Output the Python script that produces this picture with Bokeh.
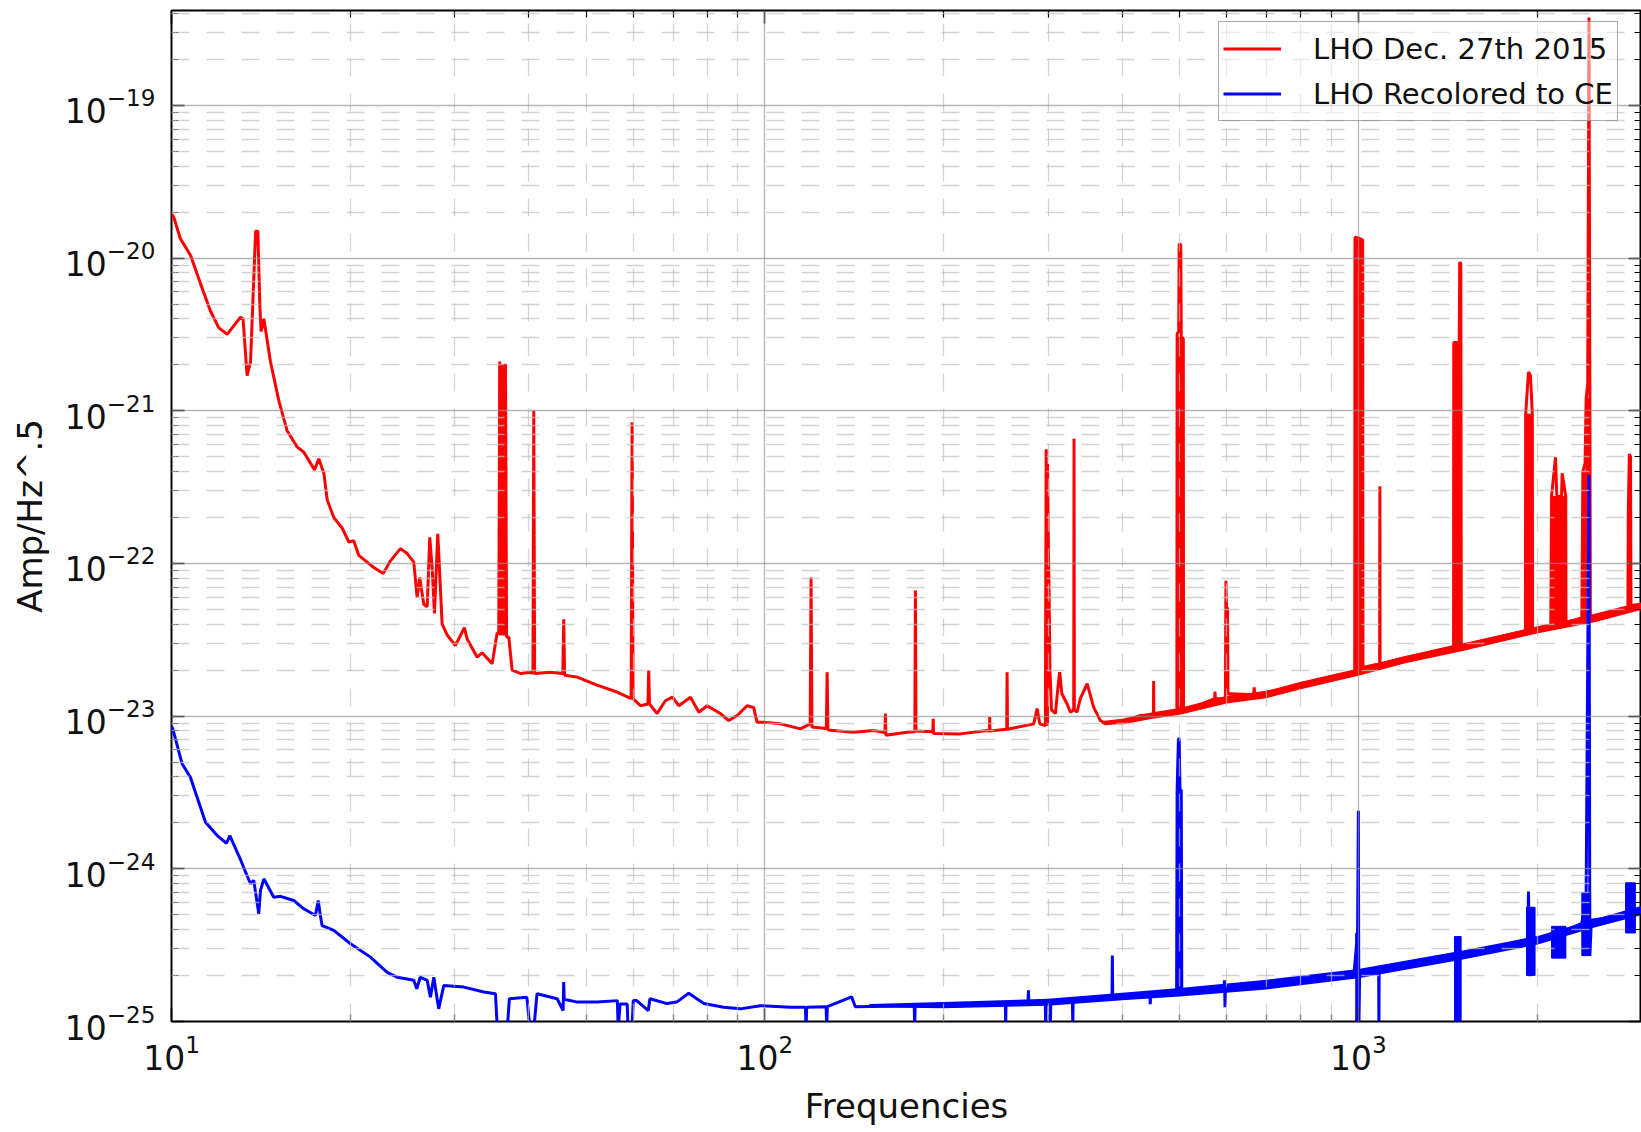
from bokeh.plotting import figure
from bokeh.models import Range1d, LogAxis, FixedTicker, Legend, LegendItem, CustomJSTickFormatter
from bokeh.embed import file_html
from bokeh.resources import INLINE

FONT = "DejaVu Sans"

# ---- amplitude spectral density, LHO Dec. 27th 2015 (Hz, strain/rtHz) ----
red_trace = [
    (10.0, 1.95e-20), (10.09, 1.85e-20), (10.35, 1.34e-20), (10.77, 1.04e-20), (11.19, 6.8e-21),
    (11.63, 4.5e-21), (12.01, 3.5e-21), (12.41, 3.16e-21), (13.07, 4.1e-21), (13.20, 4.0e-21),
    (13.41, 1.7e-21), (13.59, 2.1e-21), (13.86, 1.5e-20), (13.98, 1.5e-20), (14.09, 4.8e-21),
    (14.16, 3.3e-21), (14.31, 4.0e-21), (14.68, 2.1e-21), (15.16, 1.17e-21), (15.66, 7.4e-22),
    (16.28, 5.8e-22), (16.71, 5.35e-22), (17.42, 4.1e-22), (17.71, 4.85e-22), (18.06, 3.9e-22),
    (18.30, 2.6e-22), (18.77, 2.0e-22), (19.40, 1.7e-22), (19.90, 1.38e-22), (20.28, 1.41e-22),
    (20.68, 1.13e-22), (21.36, 1.02e-22), (21.92, 9.4e-23), (22.74, 8.6e-23), (23.39, 1.04e-22),
    (24.31, 1.25e-22), (24.96, 1.16e-22), (25.60, 1.02e-22), (25.94, 6.0e-23), (26.20, 8.1e-23),
    (26.61, 5.4e-23), (26.97, 5.2e-23), (27.24, 1.48e-22), (27.50, 9.2e-23), (27.74, 4.7e-23),
    (28.10, 1.56e-22), (28.58, 4.0e-23), (29.14, 3.4e-23), (30.09, 2.9e-23), (31.16, 3.8e-23),
    (31.49, 3.2e-23), (32.74, 2.43e-23), (33.38, 2.6e-23), (34.70, 2.2e-23), (35.38, 3.5e-23),
    (35.60, 3.5e-23), (35.74, 2.1e-21), (35.90, 4.0e-23), (36.05, 2.0e-21), (36.20, 5.0e-23),
    (36.35, 2.0e-21), (36.54, 1.98e-21), (36.70, 3.3e-23), (37.01, 3.3e-23), (37.50, 2.0e-23),
    (38.80, 1.9e-23), (40.26, 1.94e-23), (40.65, 1.9e-23), (40.78, 1.0e-21), (40.92, 1.9e-23),
    (43.51, 1.94e-23), (45.65, 1.9e-23), (45.81, 4.3e-23), (45.97, 1.85e-23), (48.26, 1.8e-23),
    (52.0, 1.6e-23), (56.0, 1.45e-23), (59.5, 1.3e-23), (59.73, 8.4e-22), (59.95, 1.3e-23),
    (61.7, 1.17e-23), (63.5, 1.2e-23), (63.7, 1.99e-23), (63.9, 1.2e-23), (65.8, 1.04e-23),
    (67.96, 1.26e-23), (69.8, 1.33e-23), (71.6, 1.17e-23), (74.9, 1.33e-23), (77.4, 1.06e-23),
    (79.9, 1.17e-23), (84.1, 1.04e-23), (86.9, 9.35e-24), (89.8, 1.01e-23), (93.3, 1.17e-23),
    (95.7, 1.14e-23), (97.0, 9.1e-24), (100.2, 9.1e-24), (106.2, 8.9e-24), (114.8, 8.25e-24),
    (119.2, 8.9e-24), (119.6, 8.1e-23), (120.0, 8.5e-24), (126.9, 8.3e-24), (127.3, 1.94e-23),
    (127.7, 8.1e-24), (141.1, 7.85e-24), (152.5, 8.05e-24), (159.3, 7.8e-24), (159.6, 1.04e-23),
    (159.9, 7.5e-24), (173.6, 7.85e-24), (178.9, 7.9e-24), (179.3, 6.64e-23), (179.7, 8.0e-24),
    (191.8, 7.9e-24), (192.1, 9.6e-24), (192.4, 7.7e-24), (213.5, 7.65e-24), (236.8, 8.05e-24),
    (238.9, 8.0e-24), (239.2, 9.85e-24), (239.5, 8.0e-24), (255.5, 8.2e-24), (255.9, 1.94e-23),
    (256.3, 8.2e-24), (283.8, 8.9e-24), (287.5, 1.12e-23), (290.5, 8.9e-24), (296.9, 8.66e-24),
    (297.8, 5.6e-22), (298.6, 1.5e-22), (299.4, 4.5e-22), (300.2, 1.5e-22), (301.2, 6.5e-23),
    (302.2, 2.0e-23), (304.0, 1.1e-23), (308.7, 1.04e-23), (311.5, 1.5e-23), (313.8, 1.94e-23),
    (316.5, 1.4e-23), (323.0, 1.2e-23), (327.2, 1.06e-23), (331.4, 1.1e-23), (331.8, 6.55e-22),
    (332.2, 1.1e-23), (335.7, 1.06e-23), (340.0, 1.3e-23), (349.1, 1.63e-23), (358.1, 1.14e-23),
    (367.5, 9.35e-24), (374.5, 8.9e-24), (395.8, 9.1e-24), (429.8, 1.01e-23), (451.5, 1.02e-23),
    (451.9, 1.7e-23), (452.3, 1.02e-23), (486.4, 1.06e-23), (494.5, 1.08e-23), (495.0, 3.2e-21),
    (498.0, 3.3e-21), (499.0, 1.24e-20), (502.0, 1.22e-20), (503.0, 3.0e-21), (507.0, 3.0e-21),
    (507.5, 1.1e-23), (514.0, 1.1e-23), (543.0, 1.2e-23), (572.5, 1.3e-23), (573.3, 1.45e-23),
    (574.1, 1.3e-23), (597.0, 1.3e-23), (598.2, 7.7e-23), (599.5, 5.1e-23), (602.0, 5.1e-23),
    (603.0, 1.4e-23), (612.0, 1.4e-23), (666.0, 1.38e-23), (667.5, 1.54e-23), (669.0, 1.38e-23),
    (676.9, 1.4e-23), (776.6, 1.55e-23), (891.6, 1.76e-23), (981.6, 1.9e-23), (986.0, 1.9e-23),
    (987.0, 1.37e-20), (1002.0, 1.35e-20), (1012.0, 1.32e-20), (1017.0, 1.32e-20), (1018.0, 2.05e-23),
    (1022.8, 2.09e-23), (1086.0, 2.2e-23), (1087.0, 3.2e-22), (1088.0, 2.2e-23), (1174.0, 2.37e-23),
    (1443.0, 2.85e-23), (1447.0, 2.85e-23), (1448.0, 2.8e-21), (1479.0, 2.8e-21), (1482.0, 9.4e-21),
    (1488.0, 9.2e-21), (1491.0, 2.9e-23), (1546.0, 3.0e-23), (1901.0, 3.6e-23), (1912.0, 3.65e-23),
    (1914.0, 9.5e-22), (1935.0, 1.79e-21), (1950.0, 1.7e-21), (1964.0, 9.5e-22), (1966.0, 3.7e-23),
    (2110.0, 4.0e-23), (2116.0, 2.74e-22), (2149.0, 4.96e-22), (2160.0, 2.74e-22), (2200.0, 2.74e-22),
    (2205.0, 3.9e-22), (2236.0, 2.74e-22), (2238.0, 4.1e-23), (2380.0, 4.4e-23), (2390.0, 4.0e-22),
    (2410.0, 4.5e-22), (2420.0, 1.2e-21), (2435.0, 1.5e-21), (2447.0, 3.76e-19), (2455.0, 1.5e-21),
    (2460.0, 4.5e-23), (2794.0, 5.1e-23), (2846.0, 5.2e-23), (2850.0, 2.1e-22), (2862.0, 5.2e-22),
    (2875.0, 5.0e-22), (2880.0, 5.3e-23), (3000.0, 5.4e-23),
]

# spread of the noise floor above ~370 Hz: frequency, lower edge, upper edge
red_band_freq = [370, 400, 450, 500, 600, 700, 800, 1000, 1200, 1500, 2000, 2500, 3000]
red_band_lo = [8.9e-24, 8.8e-24, 9.6e-24, 1.02e-23, 1.21e-23, 1.31e-23, 1.5e-23, 1.84e-23,
               2.22e-23, 2.67e-23, 3.48e-23, 4.12e-23, 4.97e-23]
red_band_hi = [9.3e-24, 9.6e-24, 1.06e-23, 1.13e-23, 1.36e-23, 1.46e-23, 1.68e-23, 2.05e-23,
               2.48e-23, 2.98e-23, 3.87e-23, 4.62e-23, 5.55e-23]

# densely packed line groups: left Hz, right Hz, floor, top
red_groups = [
    (35.65, 36.65, 3.4e-23, 2.0e-21),
    (297.3, 300.6, 8.7e-24, 1.5e-22),
    (494.7, 507.3, 1.08e-23, 3.0e-21),
    (986.5, 1017.5, 1.9e-23, 1.32e-20),
    (1447.5, 1490.5, 2.85e-23, 2.8e-21),
    (1479.0, 1489.0, 2.9e-23, 9.2e-21),
    (1913.0, 1965.0, 3.65e-23, 9.5e-22),
    (2114.0, 2237.0, 4.1e-23, 2.74e-22),
    (2385.0, 2458.0, 4.4e-23, 4.0e-22),
    (2418.0, 2456.0, 4.4e-23, 1.2e-21),
    (2848.0, 2878.0, 5.2e-23, 2.1e-22),
]

# ---- same data recoloured to Cosmic Explorer sensitivity ----
blue_trace = [
    (10.0, 8.6e-24), (10.05, 8.26e-24), (10.42, 4.87e-24), (10.76, 3.98e-24), (11.41, 2.02e-24),
    (11.94, 1.65e-24), (12.38, 1.47e-24), (12.54, 1.65e-24), (13.07, 1.15e-24), (13.33, 9.5e-25),
    (13.59, 7.98e-25), (13.76, 8.4e-25), (14.03, 5.07e-25), (14.12, 7.2e-25), (14.31, 8.6e-25),
    (14.87, 6.52e-25), (15.26, 6.6e-25), (16.07, 6.2e-25), (16.71, 5.47e-25), (17.48, 4.94e-25),
    (17.67, 6.2e-25), (17.80, 5.07e-25), (17.94, 4.25e-25), (18.77, 3.95e-25), (20.03, 3.23e-25),
    (21.64, 2.64e-25), (23.09, 2.1e-25), (24.0, 1.95e-25), (25.6, 1.86e-25), (25.9, 1.64e-25),
    (26.25, 1.95e-25), (26.97, 1.86e-25), (27.31, 1.44e-25), (27.67, 1.95e-25), (28.2, 1.21e-25),
    (28.76, 1.72e-25), (31.08, 1.68e-25), (33.6, 1.56e-25), (35.15, 1.52e-25), (35.4, 9e-26),
    (36.8, 9e-26), (37.1, 1.41e-25), (39.7, 1.44e-25), (40.2, 9e-26), (40.8, 9e-26),
    (41.3, 1.52e-25), (44.65, 1.41e-25), (45.7, 1.18e-25), (45.8, 1.81e-25), (45.9, 1.4e-25),
    (48.3, 1.34e-25), (52.2, 1.34e-25), (56.4, 1.37e-25), (56.6, 9e-26), (57.0, 1.3e-25),
    (58.6, 1.3e-25), (58.8, 9e-26), (59.7, 9e-26), (60.0, 1.37e-25), (60.8, 1.37e-25),
    (63.6, 1.18e-25), (64.0, 1.41e-25), (68.4, 1.31e-25), (71.0, 1.34e-25), (74.4, 1.53e-25),
    (78.9, 1.31e-25), (85.2, 1.24e-25), (90.9, 1.21e-25), (98.3, 1.27e-25), (110.4, 1.24e-25),
    (117.0, 1.24e-25), (117.3, 9e-26), (117.6, 1.24e-25), (126.8, 1.25e-25), (127.1, 9e-26),
    (127.4, 1.25e-25), (140.0, 1.45e-25), (142.0, 1.25e-25), (178.5, 1.27e-25), (178.8, 9e-26),
    (179.1, 1.27e-25), (200.0, 1.27e-25), (254.2, 1.3e-25), (254.5, 9e-26), (254.8, 1.3e-25),
    (277.5, 1.32e-25), (278.0, 1.6e-25), (278.5, 1.32e-25), (296.8, 1.33e-25), (297.2, 9e-26),
    (297.8, 1.33e-25), (302.2, 1.34e-25), (302.6, 9e-26), (303.2, 1.35e-25), (329.8, 1.36e-25),
    (330.2, 9e-26), (330.6, 1.36e-25), (340.0, 1.38e-25), (367.0, 1.45e-25), (384.5, 1.45e-25),
    (385.0, 2.7e-25), (385.5, 1.45e-25), (445.5, 1.45e-25), (446.0, 1.3e-25), (446.5, 1.48e-25),
    (486.0, 1.52e-25), (494.0, 1.55e-25), (495.0, 3.28e-24), (497.5, 7.1e-24), (499.0, 7.1e-24),
    (500.5, 3.28e-24), (503.0, 3.28e-24), (504.0, 1.6e-25), (514.0, 1.56e-25), (594.0, 1.7e-25),
    (595.0, 1.86e-25), (596.0, 1.24e-25), (597.0, 1.7e-25), (674.0, 1.72e-25), (762.0, 1.8e-25),
    (850.0, 1.95e-25), (983.0, 2.04e-25), (997.0, 3.8e-25), (1000.0, 2.4e-24), (1002.0, 9e-26),
    (1005.0, 2.06e-25), (1082.0, 2.1e-25), (1083.0, 9e-26), (1084.0, 2.1e-25), (1127.0, 2.16e-25),
    (1460.0, 2.7e-25), (1930.0, 3.45e-25), (1935.0, 7.1e-25), (1945.0, 1.98e-25), (1955.0, 3.5e-25),
    (2120.0, 3.6e-25), (2380.0, 4.4e-25), (2420.0, 6.7e-25), (2447.0, 3.8e-22), (2455.0, 2.7e-25),
    (2470.0, 4.6e-25), (2840.0, 5.0e-25), (2850.0, 8.1e-25), (2860.0, 3.8e-25), (2870.0, 5.05e-25),
    (3000.0, 5.34e-25),
]

blue_band_freq = [150, 200, 300, 400, 500, 700, 1000, 1500, 2000, 2500, 3000]
blue_band_lo = [1.24e-25, 1.22e-25, 1.27e-25, 1.38e-25, 1.46e-25, 1.62e-25, 1.92e-25,
                2.55e-25, 3.18e-25, 4.13e-25, 4.98e-25]
blue_band_hi = [1.3e-25, 1.34e-25, 1.41e-25, 1.54e-25, 1.66e-25, 1.88e-25, 2.21e-25,
                2.92e-25, 3.62e-25, 4.67e-25, 5.72e-25]

blue_groups = [
    (494.5, 503.5, 1.55e-25, 3.28e-24),
    (990.0, 1004.0, 9e-26, 3.8e-25),
    (1452.0, 1490.0, 9e-26, 3.6e-25),
    (1920.0, 1985.0, 2.0e-25, 5.6e-25),
    (2116.0, 2237.0, 2.6e-25, 4.2e-25),
    (2380.0, 2462.0, 2.7e-25, 7.0e-25),
    (2820.0, 2930.0, 3.8e-25, 8.1e-25),
]

series_labels = ["LHO Dec. 27th 2015", "LHO Recolored to CE"]

# ---- axes ticks ----
x_major = [10, 100, 1000]
x_minor = [m * d for d in (10, 100, 1000) for m in range(2, 10) if m * d <= 3000]
y_major = [10.0 ** e for e in range(-25, -18)]
y_minor = [m * 10.0 ** e for e in range(-25, -18) for m in range(2, 10)]


def unzip(pairs):
    return [a for a, _ in pairs], [b for _, b in pairs]


red_freq, red_amp = unzip(red_trace)
blue_freq, blue_amp = unzip(blue_trace)

p = figure(width=1641, height=1132, x_axis_type="log", y_axis_type="log",
           x_range=Range1d(10, 3000), y_range=Range1d(1e-25, 4.18e-19),
           output_backend="svg", toolbar_location=None,
           min_border_left=171, min_border_right=0, min_border_top=10, min_border_bottom=111,
           x_axis_label="Frequencies", y_axis_label="Amp/Hz^.5")
p.background_fill_color = "white"
p.border_fill_color = "white"
p.outline_line_color = "black"
p.outline_line_width = 2

xt = FixedTicker(ticks=x_major, minor_ticks=x_minor)
yt = FixedTicker(ticks=y_major, minor_ticks=y_minor)

# tick-only axes on the top and right edges of the frame
blank = CustomJSTickFormatter(code="return ''")
top_axis = LogAxis(ticker=xt, formatter=blank)
right_axis = LogAxis(ticker=yt, formatter=blank)
p.add_layout(top_axis, "above")
p.add_layout(right_axis, "right")

bottom_axis = p.below[0]
left_axis = p.left[0]
bottom_axis.ticker = xt
left_axis.ticker = yt

for ax in (bottom_axis, left_axis, top_axis, right_axis):
    ax.axis_line_color = None
    ax.major_tick_in = 13
    ax.major_tick_out = 0
    ax.minor_tick_in = 7
    ax.minor_tick_out = 0
    ax.major_tick_line_color = "black"
    ax.major_tick_line_width = 1.5
    ax.minor_tick_line_color = "black"
    ax.minor_tick_line_width = 1.2
    ax.major_label_text_font = FONT
    ax.major_label_text_font_size = "33px"
    ax.major_label_text_color = "#111111"
    ax.axis_label_text_font = FONT
    ax.axis_label_text_font_size = "34px"
    ax.axis_label_text_font_style = "normal"
    ax.axis_label_text_color = "#111111"

for ax in (top_axis, right_axis):
    ax.major_label_text_font_size = "1px"
    ax.major_label_standoff = 0

left_axis.major_label_standoff = 16
left_axis.axis_label_standoff = 12
bottom_axis.major_label_standoff = 12
bottom_axis.axis_label_standoff = 13

for g, t in ((p.xgrid[0], xt), (p.ygrid[0], yt)):
    g.ticker = t
    g.level = "annotation"
    g.grid_line_color = "#909090"
    g.grid_line_alpha = 0.65
    g.grid_line_width = 1.3
    g.minor_grid_line_color = "#c0c0c0"
    g.minor_grid_line_alpha = 0.7
    g.minor_grid_line_width = 1.3
    g.minor_grid_line_dash = "18 17"

RED = "#ff0000"
BLUE = "#0000ff"

p.varea(x=red_band_freq, y1=red_band_lo, y2=red_band_hi, fill_color=RED)
p.quad(left=[g[0] for g in red_groups], right=[g[1] for g in red_groups],
       bottom=[g[2] for g in red_groups], top=[g[3] for g in red_groups],
       fill_color=RED, line_color=RED, line_width=1)
r_red = p.line(red_freq, red_amp, line_color=RED, line_width=3)

p.varea(x=blue_band_freq, y1=blue_band_lo, y2=blue_band_hi, fill_color=BLUE)
p.quad(left=[g[0] for g in blue_groups], right=[g[1] for g in blue_groups],
       bottom=[g[2] for g in blue_groups], top=[g[3] for g in blue_groups],
       fill_color=BLUE, line_color=BLUE, line_width=1)
r_blue = p.line(blue_freq, blue_amp, line_color=BLUE, line_width=3)

legend = Legend(items=[LegendItem(label=series_labels[0], renderers=[r_red]),
                       LegendItem(label=series_labels[1], renderers=[r_blue])],
                location=(1047, 900), margin=0, padding=4, spacing=0,
                glyph_width=58, glyph_height=45, label_height=45, label_standoff=32)
legend.label_text_font = FONT
legend.label_text_font_size = "29px"
legend.label_text_color = "#111111"
legend.border_line_color = "#555555"
legend.border_line_width = 1.5
legend.background_fill_color = "white"
legend.background_fill_alpha = 0.5
p.add_layout(legend)

with open("out.html", "w") as fh:
    fh.write(file_html(p, INLINE))
